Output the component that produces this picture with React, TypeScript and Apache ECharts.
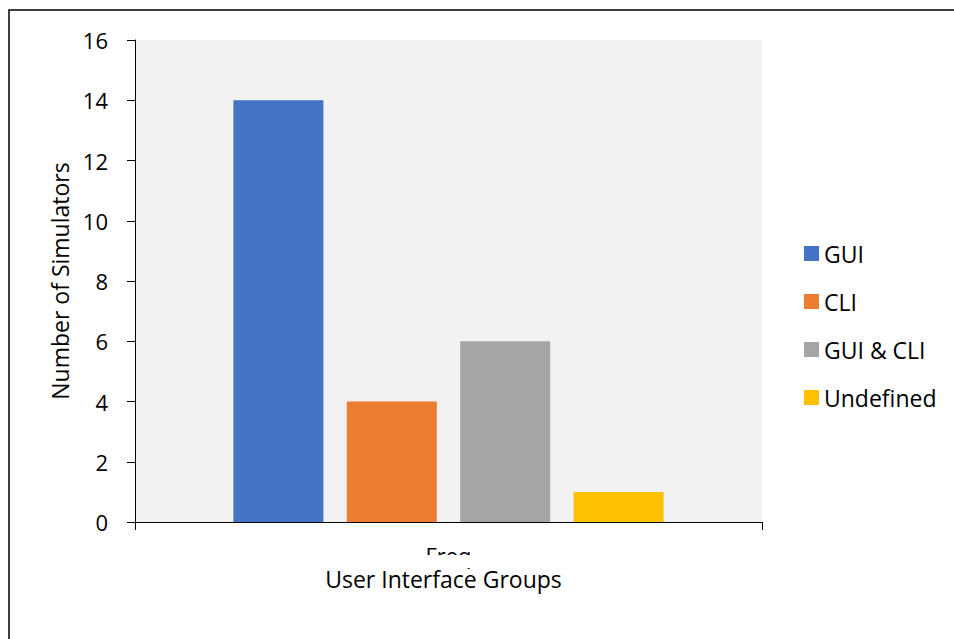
import React, { useEffect, useRef } from "react";
import * as echarts from "echarts";

const categories = ["Freq"];
const seriesNames = ["GUI", "CLI", "GUI & CLI", "Undefined"];
const seriesValues = [14, 4, 6, 1];
const seriesColors = ["#4472C4", "#ED7D31", "#A5A5A5", "#FFC000"];
const yTicks = { min: 0, max: 16, interval: 2 };

const FONT = "'Open Sans', 'Liberation Sans', sans-serif";

export default function App() {
  const ref = useRef<HTMLDivElement>(null);

  useEffect(() => {
    if (!ref.current) return;
    const chart = echarts.init(ref.current, undefined, { renderer: "svg" });
    chart.setOption({
      animation: false,
      backgroundColor: "#ffffff",
      grid: {
        left: 135,
        top: 40,
        right: 192,
        bottom: 117,
        show: true,
        backgroundColor: "#F2F2F2",
        borderWidth: 0,
      },
      legend: {
        orient: "vertical",
        left: 804,
        top: 242,
        padding: 0,
        itemWidth: 15,
        itemHeight: 15,
        itemGap: 25,
        icon: "rect",
        data: seriesNames,
        textStyle: { fontFamily: FONT, fontSize: 23, color: "#000" },
      },
      xAxis: {
        type: "category",
        data: categories,
        name: "User Interface Groups",
        nameLocation: "middle",
        nameGap: 45,
        nameMoveOverlap: false,
        nameTextStyle: {
          fontFamily: FONT,
          fontSize: 23,
          color: "#000",
          lineHeight: 23,
          padding: [0, 10, 0, 0],
        },
        axisLine: { lineStyle: { color: "#000", width: 1 } },
        axisTick: { show: true, length: 8, lineStyle: { color: "#000" } },
        axisLabel: {
          fontFamily: FONT,
          fontSize: 22,
          lineHeight: 20,
          color: "#000",
          margin: 23,
        },
      },
      yAxis: {
        type: "value",
        min: yTicks.min,
        max: yTicks.max,
        interval: yTicks.interval,
        name: "Number of Simulators",
        nameLocation: "middle",
        nameGap: 61,
        nameTextStyle: { fontFamily: FONT, fontSize: 23, color: "#000" },
        axisLine: { show: true, lineStyle: { color: "#000", width: 1 } },
        axisTick: { show: true, length: 8, lineStyle: { color: "#000" } },
        axisLabel: { fontFamily: FONT, fontSize: 22, color: "#000", margin: 27 },
        splitLine: { show: false },
      },
      series: seriesNames.map((name, i) => ({
        name,
        type: "bar",
        data: [seriesValues[i]],
        barWidth: 90,
        barGap: "26%",
        itemStyle: { color: seriesColors[i] },
      })),
      graphic: [
        {
          type: "rect",
          z: 50,
          shape: { x: 410, y: 555, width: 80, height: 13 },
          style: { fill: "#ffffff" },
        },
        {
          type: "rect",
          z: 100,
          shape: { x: 9, y: 10, width: 1100, height: 1100 },
          style: { fill: "none", stroke: "#000", lineWidth: 1.5 },
        },
      ],
    });
    return () => chart.dispose();
  }, []);

  return (
    <div
      ref={ref}
      style={{ position: "fixed", left: 0, top: 0, width: 954, height: 639 }}
    />
  );
}
